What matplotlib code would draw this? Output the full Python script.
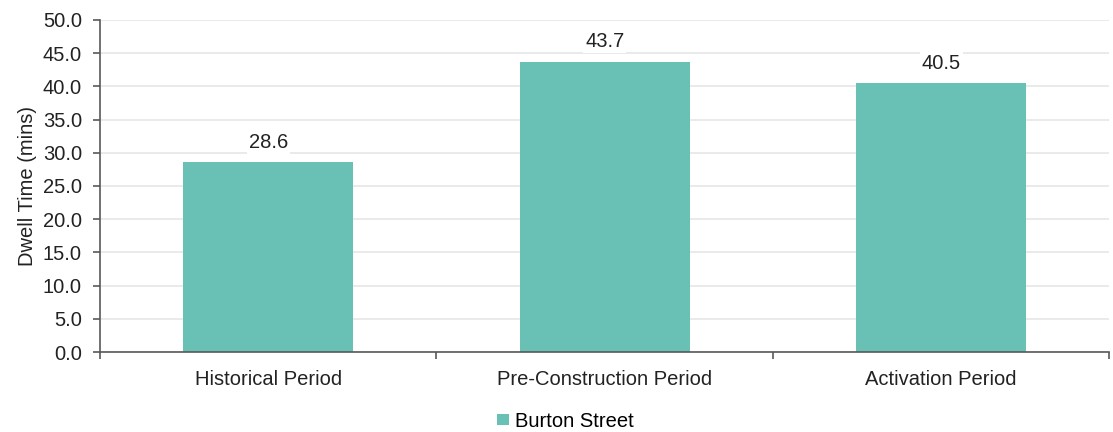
import matplotlib.pyplot as plt
import numpy as np

plt.rcParams['font.family'] = ['Liberation Sans', 'DejaVu Sans']

# data
periods = ['Historical Period', 'Pre-Construction Period', 'Activation Period']
dwell_time = [28.6, 43.7, 40.5]
series_name = 'Burton Street'

bar_color = '#69c0b4'
axis_color = '#595959'
fs = 14.5

fig = plt.figure(figsize=(11.13, 4.32), dpi=100)
ax = fig.add_axes([0.0898, 0.185, 0.907, 0.769])

x = np.arange(len(periods))
bars = ax.bar(x, dwell_time, width=0.505, color=bar_color, label=series_name, zorder=2)

for xi, v in zip(x, dwell_time):
    ax.text(xi, v + 3.0, f'{v:.1f}', ha='center', va='center', fontsize=fs, color='#222222',
            bbox=dict(facecolor='white', edgecolor='none', pad=1.5), zorder=3)

ax.set_xlim(-0.5, len(periods) - 0.5)
ax.set_ylim(0, 50)
ax.set_yticks(np.arange(0, 50.1, 5))
ax.set_yticklabels([f'{t:.1f}' for t in np.arange(0, 50.1, 5)])
ax.yaxis.grid(True, color='#e6e6e6', linewidth=1.2, zorder=0)
ax.set_axisbelow(True)

# category labels centred, tick marks at boundaries
ax.set_xticks(x)
ax.set_xticklabels(periods)
ax.tick_params(axis='x', which='major', length=0, pad=13, labelsize=fs, labelcolor='#222222')
ax.set_xticks(np.arange(-0.5, len(periods)), minor=True)
ax.tick_params(axis='x', which='minor', length=5, color=axis_color, width=1.2)
ax.tick_params(axis='y', length=5, pad=8, color=axis_color, width=1.2, labelsize=fs, labelcolor='#222222')

for s in ['top', 'right']:
    ax.spines[s].set_visible(False)
for s in ['left', 'bottom']:
    ax.spines[s].set_color(axis_color)
    ax.spines[s].set_linewidth(1.2)

ax.set_ylabel('Dwell Time (mins)', fontsize=fs, color='#222222', labelpad=4)

fig.legend(loc='center', bbox_to_anchor=(0.508, 0.025), frameon=False, fontsize=fs,
           handlelength=0.55, handleheight=0.4, handletextpad=0.3)

fig.savefig('out.png', dpi=100)
